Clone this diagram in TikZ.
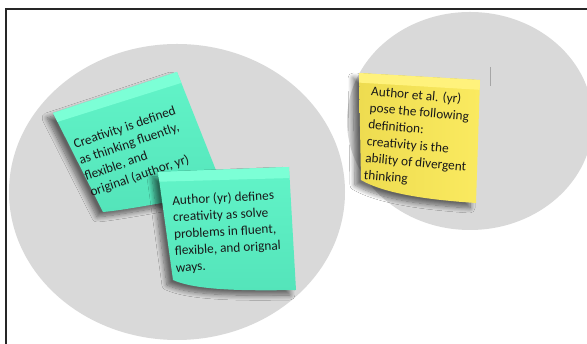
\documentclass[tikz,border=0pt]{standalone}
\usepackage{fontspec}
\setmainfont{Carlito}
\usetikzlibrary{calc, shadows.blur}
\definecolor{circlegray}{RGB}{217,217,217}
\definecolor{greentop}{RGB}{98,244,200}
\definecolor{greenbot}{RGB}{84,228,186}
\definecolor{greenband}{RGB}{124,255,214}
\definecolor{yellowleft}{RGB}{238,220,80}
\definecolor{yellowright}{RGB}{250,234,96}
\definecolor{yellowband}{RGB}{255,242,124}
\tikzset{
  cluster/.style={fill=circlegray},
  sticky/.style={blur shadow={shadow xshift=-6pt, shadow yshift=-5pt,
      shadow blur radius=5pt, shadow blur steps=10, shadow opacity=55}},
  greennote/.style={sticky, top color=greentop, bottom color=greenbot},
  yellownote/.style={sticky, left color=yellowleft, right color=yellowright},
  notetext/.style={align=left, inner sep=0pt, text=black!90,
      font=\fontsize{13.3}{16.8}\selectfont}
}

\begin{document}
\begin{tikzpicture}[x=1pt, y=1pt]
\useasboundingbox (0,0) rectangle (587,344);
\clip (0,0) rectangle (587,344);
\fill[white] (0,0) rectangle (587,344);
\draw[line width=2pt, black!85] (6,335) rectangle (620,-36);

% the two groups
\fill[cluster] (177,152) ellipse [x radius=168, y radius=148];
\fill[cluster] (470,223) ellipse [x radius=123, y radius=109];
\draw[gray!70, line width=0.8pt] (490,277) -- (490,258);

% first green note
\coordinate (g1tl) at (53,231);
\coordinate (g1tr) at (177,272);
\coordinate (g1br) at (225,151);
\coordinate (g1bl) at (103,132);
\path[greennote] (g1tl) -- (g1tr) -- (g1br)
  .. controls (185,146) and (128,134) .. (g1bl) -- cycle;
\fill[greenband] (g1tl) -- (g1tr) -- ($(g1tr)!.09!(g1br)$) -- ($(g1tl)!.09!(g1bl)$) -- cycle;
\node[notetext, rotate=19] (def1) at (133,192)
  {Creativity is defined\\as thinking fluently,\\flexible, and\\original (author, yr)};

% second green note
\coordinate (g2tl) at (158,172);
\coordinate (g2tr) at (289,177);
\coordinate (g2br) at (296,54);
\coordinate (g2bl) at (173,64);
\path[greennote] (g2tl) -- (g2tr) -- (g2br)
  .. controls (240,53) and (195,54) .. (g2bl) -- cycle;
\fill[greenband] (g2tl) -- (g2tr) -- ($(g2tr)!.09!(g2br)$) -- ($(g2tl)!.09!(g2bl)$) -- cycle;
\node[notetext, rotate=3] (def2) at (227,112)
  {Author (yr) defines\\creativity as solve\\problems in fluent,\\flexible, and orignal\\ways.};

% yellow note
\coordinate (y1tl) at (359,271);
\coordinate (y1tr) at (480,264);
\coordinate (y1br) at (476,141);
\coordinate (y1bl) at (361,164);
\path[yellownote] (y1tl) -- (y1tr) -- (y1br)
  .. controls (430,144) and (385,150) .. (y1bl) -- cycle;
\fill[yellowband] (y1tl) -- (y1tr) -- ($(y1tr)!.08!(y1br)$) -- ($(y1tl)!.09!(y1bl)$) -- cycle;
\node[notetext, rotate=-5] (def3) at (418,206)
  {Author et al. (yr)\\pose the following\\definition:\\creativity is the\\ability of divergent\\thinking};
\end{tikzpicture}
\end{document}
